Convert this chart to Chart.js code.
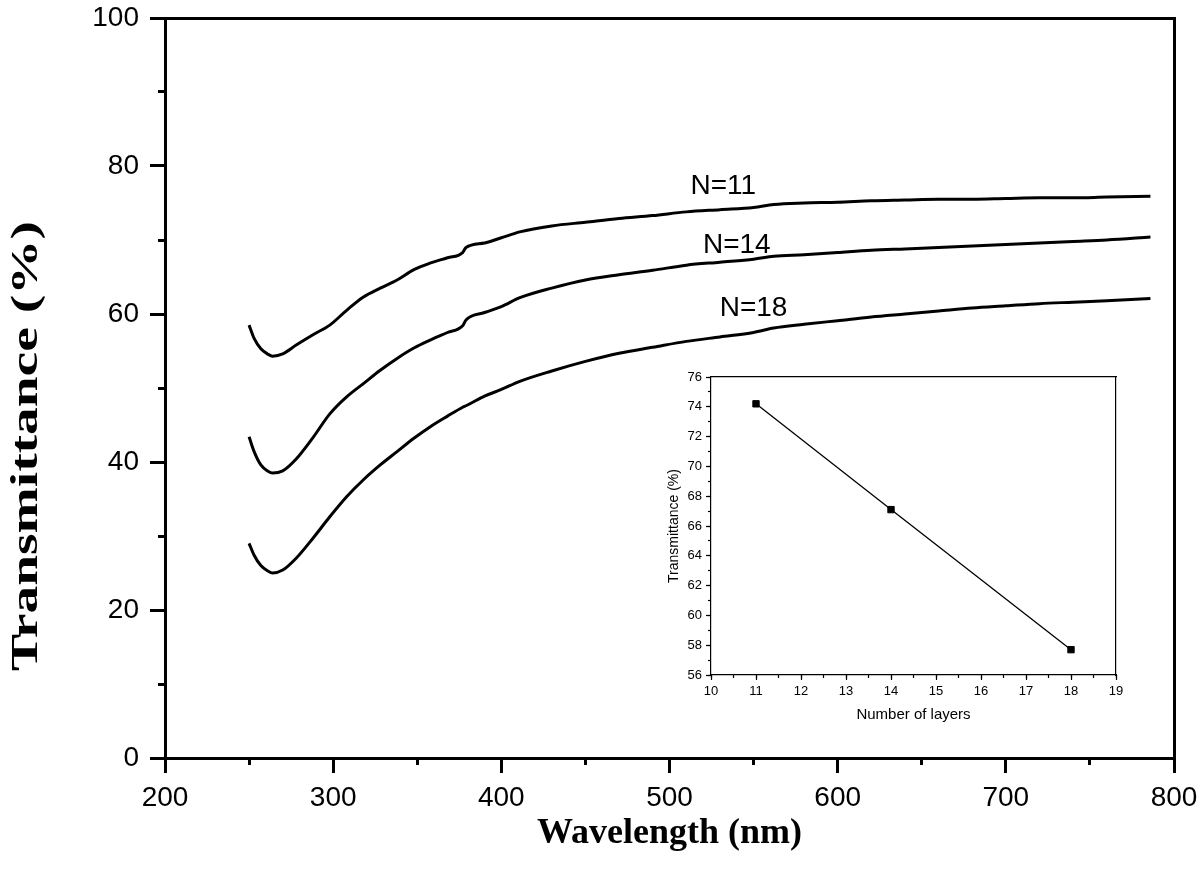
<!DOCTYPE html>
<html>
<head>
<meta charset="utf-8">
<title>Transmittance vs wavelength</title>
<script src="https://cdn.jsdelivr.net/npm/chart.js@4.4.1/dist/chart.umd.min.js"></script>
<style>
	html, body { margin: 0; padding: 0; background: #fff; }
	#wrap { position: relative; width: 1200px; height: 876px; }
	#mainChart { position: absolute; left: 0; top: 0; }
	#insetChart { position: absolute; left: 640px; top: 360px; }
</style>
</head>
<body>
<div id="wrap">
	<canvas id="mainChart" width="1200" height="876"></canvas>
	<canvas id="insetChart" width="500" height="375"></canvas>
</div>
<script>
// main spectra
const wavelengths = [250, 253, 257, 261, 264, 270, 278, 288, 298, 308, 318, 328, 338, 348, 358, 368, 377, 379, 390, 400,
	411, 430, 450, 470, 490, 510, 530, 550, 562, 580, 600, 620, 640, 660, 680, 700, 720, 740, 760, 786];
const transN11 = [58.5, 56.7, 55.3, 54.6, 54.3, 54.6, 55.8, 57.2, 58.5, 60.5, 62.3, 63.5, 64.6, 66.0, 66.9, 67.6, 68.3, 69.0, 69.6, 70.3,
	71.1, 71.9, 72.4, 72.9, 73.3, 73.8, 74.1, 74.4, 74.8, 75.0, 75.1, 75.3, 75.4, 75.5, 75.5, 75.6, 75.7, 75.7, 75.8, 75.9];
const transN14 = [43.4, 41.4, 39.6, 38.8, 38.5, 38.8, 40.4, 43.3, 46.5, 48.8, 50.6, 52.4, 54.0, 55.4, 56.5, 57.5, 58.4, 59.2, 60.2, 61.0,
	62.2, 63.5, 64.6, 65.3, 65.9, 66.6, 67.0, 67.4, 67.8, 68.0, 68.3, 68.6, 68.8, 69.0, 69.2, 69.4, 69.6, 69.8, 70.0, 70.4];
const transN18 = [29.0, 27.4, 26.0, 25.3, 25.0, 25.4, 27.0, 29.7, 32.6, 35.3, 37.6, 39.6, 41.4, 43.2, 44.8, 46.2, 47.4, 47.6, 48.9, 49.8,
	50.9, 52.3, 53.6, 54.7, 55.5, 56.3, 56.9, 57.5, 58.1, 58.6, 59.1, 59.6, 60.0, 60.4, 60.8, 61.1, 61.4, 61.6, 61.8, 62.1];

const curveLabels = ['N=11', 'N=14', 'N=18'];
const curveLabelX = [532, 540, 550];
const curveLabelY = [77.2, 69.3, 60.8];

const xTicksMain = [200, 800, 100, 50];   // min, max, major step, minor step
const yTicksMain = [0, 100, 20, 10];

// inset
const layers = [11, 14, 18];
const layerTrans = [74.2, 67.1, 57.7];
const xTicksInset = [10, 19, 1, 0.5];
const yTicksInset = [56, 76, 2, 1];

const sans = '"Liberation Sans", Arial, sans-serif';
const serif = '"Liberation Serif", "Times New Roman", serif';

const toPoints = (xs, ys) => xs.map((x, i) => ({x: x, y: ys[i]}));

const curveLabelPlugin = {
	id: 'curveLabels',
	afterDatasetsDraw(chart) {
		const {ctx, scales} = chart;
		ctx.save();
		ctx.fillStyle = '#000';
		ctx.font = `28px ${sans}`;
		ctx.textAlign = 'center';
		ctx.textBaseline = 'middle';
		curveLabels.forEach((t, i) => {
			ctx.fillText(t, scales.x.getPixelForValue(curveLabelX[i]), scales.y.getPixelForValue(curveLabelY[i]));
		});
		ctx.restore();
	}
};

// the original's vertical title is stretched along its length
const yTitlePlugin = {
	id: 'yTitle',
	afterDraw(chart, args, opts) {
		const ctx = chart.ctx;
		ctx.save();
		ctx.font = `bold ${opts.size}px ${serif}`;
		ctx.fillStyle = '#000';
		const w = ctx.measureText(opts.text).width;
		ctx.translate(opts.x, opts.y);
		ctx.rotate(-Math.PI / 2);
		ctx.scale(opts.length / w, 1);
		ctx.textAlign = 'center';
		ctx.textBaseline = 'middle';
		ctx.fillText(opts.text, 0, 0);
		ctx.restore();
	}
};

// fixed axis sizes; drop the label overhang so layout.padding places the plot box
const fixW = w => s => { s.width = w; s.paddingTop = 0; s.paddingBottom = 0; };
const fixH = h => s => { s.height = h; s.paddingLeft = 0; s.paddingRight = 0; };

function axisSet(xt, yt, o) {
	return {
		x: {
			type: 'linear', position: 'bottom', weight: 1, min: xt[0], max: xt[1],
			ticks: {stepSize: xt[2], color: '#000', font: {family: sans, size: o.tickFont}, padding: o.xPad, maxRotation: 0, autoSkip: false},
			grid: {drawOnChartArea: false, tickLength: o.major, tickWidth: o.lw, tickColor: '#000'},
			border: {display: true, width: o.lw, color: '#000'},
			title: o.xTitle,
			afterFit: fixH(o.xH)
		},
		xMinor: {
			type: 'linear', position: 'bottom', weight: 0, min: xt[0], max: xt[1],
			ticks: {stepSize: xt[3], display: false, autoSkip: false},
			grid: {drawOnChartArea: false, tickLength: o.minor, tickWidth: o.lw, tickColor: '#000'},
			border: {display: false},
			afterFit: fixH(0)
		},
		xTop: {
			type: 'linear', position: 'top', min: xt[0], max: xt[1],
			ticks: {display: false}, grid: {display: false},
			border: {display: true, width: o.lw, color: '#000'},
			afterFit: fixH(0)
		},
		y: {
			type: 'linear', position: 'left', weight: 1, min: yt[0], max: yt[1],
			ticks: {stepSize: yt[2], color: '#000', font: {family: sans, size: o.tickFont}, padding: o.yPad, autoSkip: false},
			grid: {drawOnChartArea: false, tickLength: o.major, tickWidth: o.lw, tickColor: '#000'},
			border: {display: true, width: o.lw, color: '#000'},
			title: o.yTitle,
			afterFit: fixW(o.yW)
		},
		yMinor: {
			type: 'linear', position: 'left', weight: 0, min: yt[0], max: yt[1],
			ticks: {stepSize: yt[3], display: false, autoSkip: false},
			grid: {drawOnChartArea: false, tickLength: o.minor, tickWidth: o.lw, tickColor: '#000'},
			border: {display: false},
			afterFit: fixW(0)
		},
		yRight: {
			type: 'linear', position: 'right', min: yt[0], max: yt[1],
			ticks: {display: false}, grid: {display: false},
			border: {display: true, width: o.lw, color: '#000'},
			afterFit: fixW(0)
		}
	};
}

const lineStyle = {
	borderColor: '#000', borderWidth: 3, pointRadius: 0, fill: false,
	cubicInterpolationMode: 'monotone', borderJoinStyle: 'round', xAxisID: 'x', yAxisID: 'y'
};

new Chart(document.getElementById('mainChart'), {
	type: 'line',
	data: {
		datasets: [
			{...lineStyle, label: 'N=11', data: toPoints(wavelengths, transN11)},
			{...lineStyle, label: 'N=14', data: toPoints(wavelengths, transN14)},
			{...lineStyle, label: 'N=18', data: toPoints(wavelengths, transN18)}
		]
	},
	options: {
		responsive: false, animation: false,
		layout: {padding: {left: 0, top: 18, right: 26, bottom: 0}},
		plugins: {
			legend: {display: false}, tooltip: {enabled: false},
			yTitle: {text: 'Transmittance (%)', size: 38, x: 27, y: 446, length: 450}
		},
		scales: axisSet(xTicksMain, yTicksMain, {
			tickFont: 28, xPad: 8, yPad: 11, major: 15, minor: 7, lw: 3, xH: 118, yW: 165,
			xTitle: {display: true, text: 'Wavelength (nm)', color: '#000',
				font: {family: serif, size: 36, weight: 'bold'}, padding: {top: 0, bottom: 21}},
			yTitle: {display: false}
		})
	},
	plugins: [curveLabelPlugin, yTitlePlugin]
});

new Chart(document.getElementById('insetChart'), {
	type: 'line',
	data: {
		datasets: [{
			label: 'Transmittance', data: toPoints(layers, layerTrans),
			borderColor: '#000', borderWidth: 1.3, tension: 0, fill: false,
			pointStyle: 'rect', pointRadius: 4.5, pointBackgroundColor: '#000', pointBorderColor: '#000', pointBorderWidth: 1,
			xAxisID: 'x', yAxisID: 'y'
		}]
	},
	options: {
		responsive: false, animation: false,
		layout: {padding: {left: 0, top: 17, right: 24, bottom: 0}},
		plugins: {legend: {display: false}, tooltip: {enabled: false}},
		scales: axisSet(xTicksInset, yTicksInset, {
			tickFont: 13, xPad: 4, yPad: 4, major: 5, minor: 3, lw: 1.2, xH: 60, yW: 71,
			xTitle: {display: true, text: 'Number of layers', color: '#000',
				font: {family: sans, size: 15}, padding: {top: 0, bottom: 11}},
			yTitle: {display: true, text: 'Transmittance (%)', color: '#000',
				font: {family: sans, size: 14}, padding: {top: 26, bottom: 0}}
		})
	}
});
</script>
</body>
</html>
